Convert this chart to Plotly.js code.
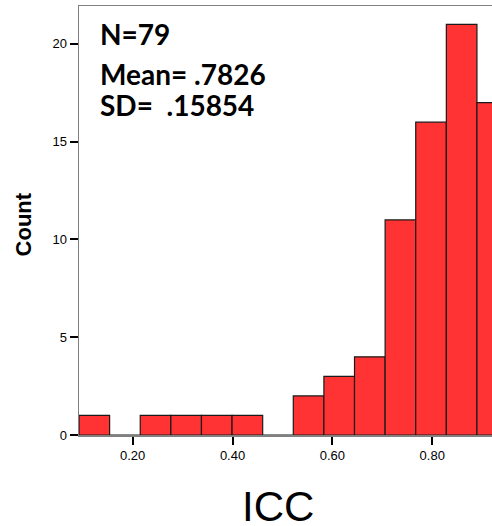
<!DOCTYPE html>
<html>
<head>
<meta charset="utf-8">
<script src="https://cdn.plot.ly/plotly-3.0.1.min.js"></script>
<style>
  html, body { margin: 0; padding: 0; background: #ffffff; }
  #chart { width: 492px; height: 526px; }
</style>
</head>
<body>
<div id="chart"></div>
<script>
// ---- data ----
const binCenters = [0.1232, 0.1845, 0.2458, 0.3071, 0.3684, 0.4297, 0.4910,
                    0.5523, 0.6136, 0.6749, 0.7362, 0.7975, 0.8588, 0.9201];
const counts = [1, 0, 1, 1, 1, 1, 0, 2, 3, 4, 11, 16, 21, 17];
const binWidth = 0.0613;
const xTickVals = [0.2, 0.4, 0.6, 0.8];
const xTickText = ["0.20", "0.40", "0.60", "0.80"];
const yTickVals = [0, 5, 10, 15, 20];
const statLines = ["N=79", "Mean= .7826", "SD=  .15854"];
const xTitle = "ICC";
const yTitle = "Count";

const trace = {
  type: "bar",
  x: binCenters,
  y: counts,
  width: binCenters.map(() => binWidth),
  marker: { color: "#ff3333", line: { color: "#1a1a1a", width: 1.2 } },
  hoverinfo: "x+y"
};

const statY = [0.934, 0.842, 0.769];
const annotations = statLines.map((t, i) => ({
  text: "<b>" + t + "</b>",
  xref: "paper", yref: "paper",
  x: 0.046, y: statY[i],
  xanchor: "left", yanchor: "middle",
  showarrow: false,
  font: { family: "Lato, 'Open Sans', sans-serif", size: 28, color: "#000000" }
}));
annotations.push({
  text: xTitle, xref: "paper", yref: "paper",
  x: 0.483, y: -0.167, xanchor: "center", yanchor: "middle",
  showarrow: false,
  font: { family: "'Liberation Sans', Arial, sans-serif", size: 42, color: "#000000" }
});
annotations.push({
  text: "<b>" + yTitle + "</b>", xref: "paper", yref: "paper",
  x: -0.134, y: 0.49, xanchor: "center", yanchor: "middle",
  textangle: -90, showarrow: false,
  font: { family: "'Liberation Sans', Arial, sans-serif", size: 22, color: "#000000" }
});

const layout = {
  width: 492, height: 526,
  margin: { l: 79, r: 0, t: 6, b: 91, pad: 0 },
  paper_bgcolor: "#ffffff", plot_bgcolor: "#ffffff",
  showlegend: false,
  bargap: 0,
  xaxis: {
    range: [0.0925, 0.9196],
    tickvals: xTickVals, ticktext: xTickText,
    ticks: "outside", ticklen: 8, tickwidth: 2, tickcolor: "#000000",
    showline: true, linecolor: "#808080", linewidth: 1.5, mirror: true,
    showgrid: false, zeroline: false,
    tickfont: { family: "'Liberation Sans', Arial, sans-serif", size: 13, color: "#000000" }
  },
  yaxis: {
    range: [0, 21.94],
    tickvals: yTickVals,
    ticks: "outside", ticklen: 8, tickwidth: 2, tickcolor: "#000000",
    showline: true, linecolor: "#808080", linewidth: 1.5, mirror: false,
    showgrid: false, zeroline: false,
    tickfont: { family: "'Liberation Sans', Arial, sans-serif", size: 13, color: "#000000" }
  },
  annotations: annotations
};

Plotly.newPlot("chart", [trace], layout, { staticPlot: true, displayModeBar: false });
</script>
</body>
</html>
